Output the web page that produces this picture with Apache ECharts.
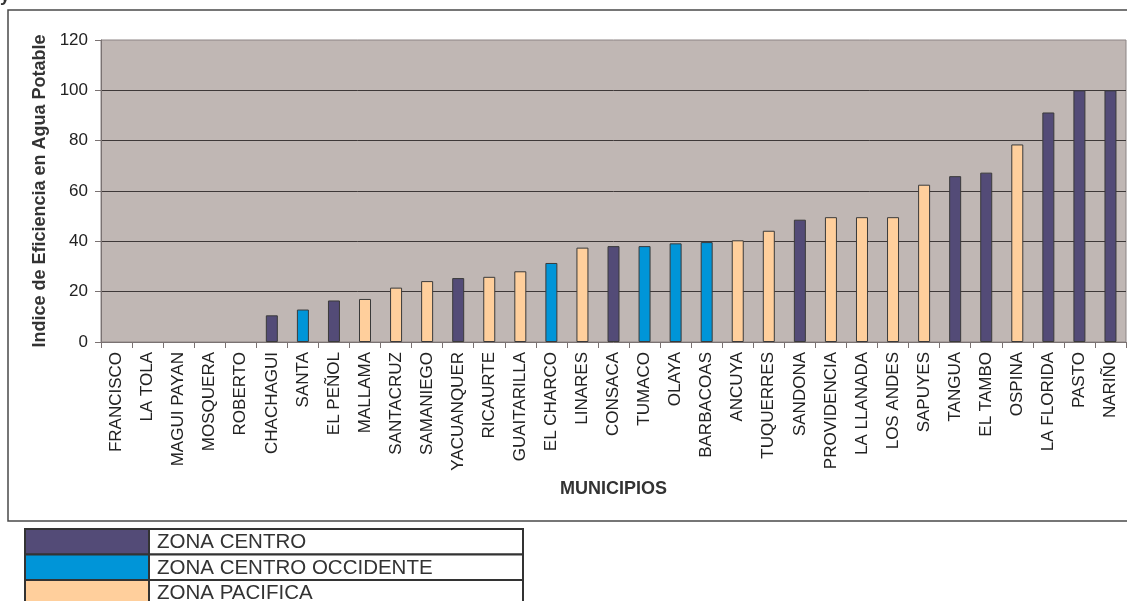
<!DOCTYPE html>
<html>
<head>
<meta charset="utf-8">
<script src="https://cdn.jsdelivr.net/npm/echarts@6/dist/echarts.min.js"></script>
<style>html,body{margin:0;padding:0;background:#fff}#c{width:1127px;height:601px}</style>
</head>
<body>
<div id="c"></div>
<script>
const categories = ['FRANCISCO','LA TOLA','MAGUI PAYAN','MOSQUERA','ROBERTO','CHACHAGUI','SANTA','EL PEÑOL','MALLAMA','SANTACRUZ','SAMANIEGO','YACUANQUER','RICAURTE','GUAITARILLA','EL CHARCO','LINARES','CONSACA','TUMACO','OLAYA','BARBACOAS','ANCUYA','TUQUERRES','SANDONA','PROVIDENCIA','LA LLANADA','LOS ANDES','SAPUYES','TANGUA','EL TAMBO','OSPINA','LA FLORIDA','PASTO','NARIÑO'];
const values = [0,0,0,0,0,10.6,12.9,16.5,17.1,21.6,24.2,25.4,25.9,28.1,31.4,37.5,38.1,38.1,39.2,39.7,40.4,44.2,48.6,49.6,49.6,49.6,62.5,65.9,67.3,78.5,91.2,100,100];
const zoneOf = [2,2,2,2,2,0,1,0,2,2,2,0,2,2,1,2,0,1,1,1,2,2,0,2,2,2,2,0,0,2,0,0,0];
const zoneNames = ['ZONA CENTRO','ZONA CENTRO OCCIDENTE','ZONA PACIFICA'];
const zoneColors = ['#534b77','#0095d8','#ffcf9c'];
const yTicks = [0,20,40,60,80,100,120];
const xTitle = 'MUNICIPIOS';
const yTitle = 'Indice de Eficiencia en Agua Potable';

const FONT = "'Liberation Sans', Arial, sans-serif";
const chart = echarts.init(document.getElementById('c'), null, {renderer: 'canvas'});

const barData = values.map((v, i) => ({
  value: v,
  itemStyle: {color: zoneColors[zoneOf[i]], borderWidth: v === 0 ? 0 : 1}
}));

// legend table
const legendG = [];
const tx = 25, tw = 498, sw = 124, ty = 529, rh = 25.5;
zoneNames.forEach((n, i) => {
  legendG.push({type: 'rect', shape: {x: tx, y: ty + i * rh, width: sw, height: rh}, style: {fill: zoneColors[i], stroke: '#333', lineWidth: 2}, z: 10});
  legendG.push({type: 'rect', shape: {x: tx + sw, y: ty + i * rh, width: tw - sw, height: rh}, style: {fill: '#fff', stroke: '#333', lineWidth: 2}, z: 10});
  legendG.push({type: 'text', x: tx + sw + 8, y: ty + i * rh + rh / 2 + 1, style: {text: n, fill: '#333', font: "20.5px " + FONT, textVerticalAlign: 'middle', textAlign: 'left'}, z: 11});
});

const option = {
  animation: false,
  backgroundColor: '#ffffff',
  grid: {left: 101, right: 1, top: 40, bottom: 259, show: true, backgroundColor: '#c0b7b4', borderColor: '#8c8484', borderWidth: 1, outerBoundsMode: 'none'},
  xAxis: {
    type: 'category',
    data: categories,
    name: xTitle,
    nameLocation: 'middle',
    nameGap: 138,
    nameTextStyle: {fontFamily: FONT, fontSize: 18, fontWeight: 'bold', color: '#333'},
    axisLine: {show: true, lineStyle: {color: '#7a7272', width: 1}},
    axisTick: {show: true, length: 6, interval: 0, lineStyle: {color: '#7a7272'}},
    axisLabel: {interval: 0, rotate: 90, margin: 10, fontFamily: FONT, fontSize: 17, color: '#222'},
    splitLine: {show: false}
  },
  yAxis: {
    type: 'value',
    min: 0, max: 120, interval: 20,
    name: yTitle,
    nameLocation: 'middle',
    nameGap: 52,
    nameTextStyle: {fontFamily: FONT, fontSize: 18, fontWeight: 'bold', color: '#333'},
    axisLine: {show: true, lineStyle: {color: '#7a7272', width: 1}},
    axisTick: {show: true, length: 6, lineStyle: {color: '#7a7272'}},
    axisLabel: {margin: 13, fontFamily: FONT, fontSize: 17, color: '#222', formatter: v => yTicks.includes(v) ? String(v) : ''},
    splitLine: {show: true, showMinLine: false, showMaxLine: false, lineStyle: {color: '#3e3838', width: 1}}
  },
  series: [{
    type: 'bar',
    data: barData,
    barWidth: 12,
    itemStyle: {borderColor: '#3a3a3a', borderWidth: 1}
  }],
  graphic: [
    {type: 'rect', shape: {x: 8, y: 10, width: 1140, height: 511}, style: {fill: 'none', stroke: '#4a4a4a', lineWidth: 1.5}, z: -1, silent: true},
    {type: 'text', x: 0, y: -13, style: {text: 'y', fill: '#333', font: "bold 18px " + FONT}, z: 5},
    ...legendG
  ]
};
chart.setOption(option);
</script>
</body>
</html>
